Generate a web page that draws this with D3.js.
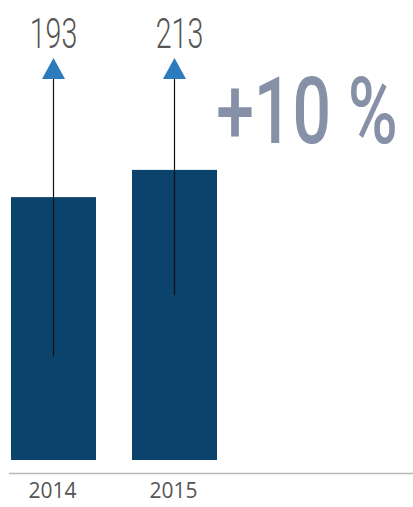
<!DOCTYPE html>
<html>
<head>
<meta charset="utf-8">
<script src="https://cdn.jsdelivr.net/npm/d3@7"></script>
<style>
  body { margin: 0; background: #fff; }
  svg { display: block; }
</style>
</head>
<body>
<svg id="chart" width="413" height="507"></svg>
<script>
/* chart data */
const years = ["2014", "2015"];
const values = [193, 213];
const arrowBase = [76, 121];   // where each arrow stem stops (same units as values)
const change = "+10 %";

const svg = d3.select("#chart");

const baseY = 460;
const yScale = d3.scaleLinear()
    .domain([0, 250])
    .range([baseY, baseY - 250 * 1.362]);

const xScale = d3.scaleBand()
    .domain(years)
    .range([11, 217])
    .paddingInner(0.2975)
    .paddingOuter(0);

const data = years.map((y, i) => ({ year: y, value: values[i], base: arrowBase[i] }));
const cx = d => xScale(d.year) + xScale.bandwidth() / 2;

/* bars */
svg.selectAll(".bar")
    .data(data)
    .enter()
    .append("rect")
    .attr("class", "bar")
    .attr("x", d => xScale(d.year))
    .attr("y", d => yScale(d.value))
    .attr("width", xScale.bandwidth())
    .attr("height", d => baseY - yScale(d.value))
    .attr("fill", "#0b436c");

/* axis line */
svg.append("line")
    .attr("x1", 9)
    .attr("x2", 413)
    .attr("y1", 473.5)
    .attr("y2", 473.5)
    .attr("stroke", "#b8b8b8")
    .attr("stroke-width", 1.5);

/* year labels */
svg.selectAll(".year")
    .data(data)
    .enter()
    .append("text")
    .attr("class", "year")
    .attr("x", d => cx(d) - 1)
    .attr("y", 498)
    .attr("text-anchor", "middle")
    .attr("font-family", "Open Sans")
    .attr("font-size", 21)
    .attr("fill", "#555")
    .text(d => d.year);

/* arrows */
const arrowTop = 79;
svg.selectAll(".stem")
    .data(data)
    .enter()
    .append("line")
    .attr("class", "stem")
    .attr("x1", d => cx(d))
    .attr("x2", d => cx(d))
    .attr("y1", arrowTop)
    .attr("y2", d => yScale(d.base))
    .attr("stroke", "#111")
    .attr("stroke-width", 1.2);

svg.selectAll(".head")
    .data(data)
    .enter()
    .append("path")
    .attr("class", "head")
    .attr("d", d => {
        const x = cx(d);
        return `M${x - 11.5},${arrowTop} L${x},${arrowTop - 21} L${x + 11.5},${arrowTop} Z`;
    })
    .attr("fill", "#2b7bbd");

/* value labels */
svg.selectAll(".value")
    .data(data)
    .enter()
    .append("text")
    .attr("class", "value")
    .attr("transform", (d, i) => `translate(${cx(d) + (i === 1 ? 5 : 0)},48) scale(0.68,1)`)
    .attr("text-anchor", "middle")
    .attr("font-family", "Roboto")
    .attr("font-weight", 300)
    .attr("font-size", 42)
    .attr("fill", "#555")
    .text(d => d.value);

/* change label */
svg.append("text")
    .attr("transform", "translate(307,143) scale(0.73,1)")
    .attr("text-anchor", "middle")
    .attr("font-family", "Roboto")
    .attr("font-weight", 500)
    .attr("font-size", 93)
    .attr("fill", "#8690a6")
    .text(change);
</script>
</body>
</html>
